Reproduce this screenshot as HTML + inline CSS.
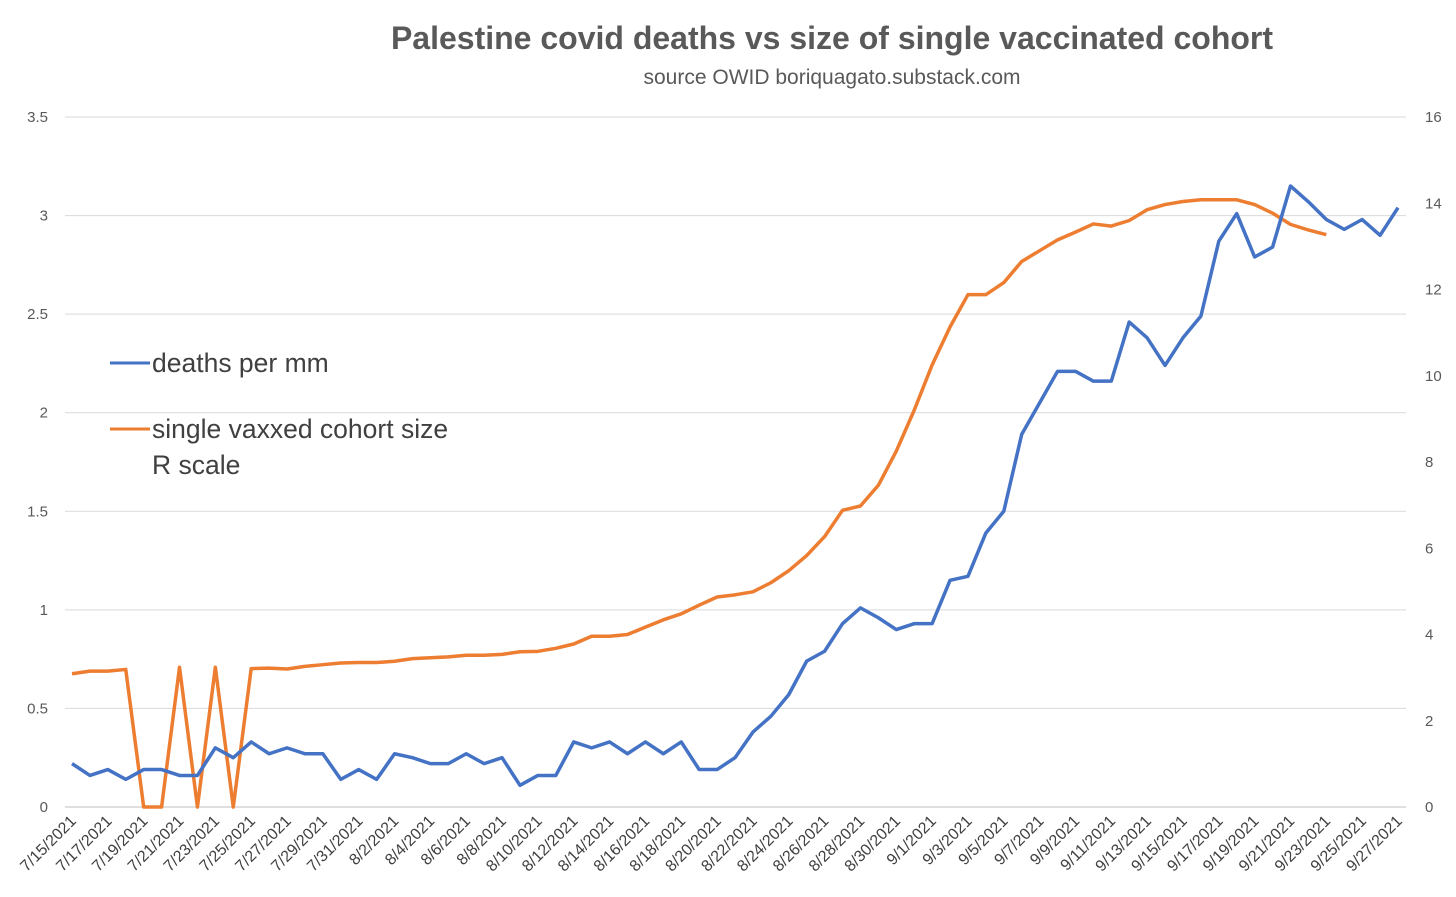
<!DOCTYPE html>
<html><head><meta charset="utf-8"><style>
body{margin:0;background:#fff;}
svg{display:block;font-family:"Liberation Sans",sans-serif;}
</style></head><body>
<svg id="chart" width="1456" height="897">
<text x="832" y="49" text-anchor="middle" font-size="32" font-weight="bold" fill="#595959">Palestine covid deaths vs size of single vaccinated cohort</text>
<text x="832" y="84" text-anchor="middle" font-size="21" fill="#595959">source OWID boriquagato.substack.com</text>
<g id="grid"></g><g id="xlabels"></g><g id="lines"></g>
<g>
<line x1="110" y1="363" x2="150" y2="363" stroke="#4472C4" stroke-width="3"/>
<text x="152" y="372" font-size="26.5" fill="#404040">deaths per mm</text>
<line x1="110" y1="429" x2="150" y2="429" stroke="#ED7D31" stroke-width="3"/>
<text x="152" y="438" font-size="26.5" fill="#404040">single vaxxed cohort size</text>
<text x="152" y="474" font-size="26.5" fill="#404040">R scale</text>
</g>
</svg>
<script>
const deaths=[0.22,0.16,0.19,0.14,0.19,0.19,0.16,0.16,0.30,0.25,0.33,0.27,0.30,0.27,0.27,0.14,0.19,0.14,0.27,0.25,0.22,0.22,0.27,0.22,0.25,0.11,0.16,0.16,0.33,0.30,0.33,0.27,0.33,0.27,0.33,0.19,0.19,0.25,0.38,0.46,0.57,0.74,0.79,0.93,1.01,0.96,0.90,0.93,0.93,1.15,1.17,1.39,1.50,1.89,2.05,2.21,2.21,2.16,2.16,2.46,2.38,2.24,2.38,2.49,2.87,3.01,2.79,2.84,3.15,3.07,2.98,2.93,2.98,2.90,3.04];
const cohort=[3.09,3.15,3.15,3.19,0,0,3.24,0,3.24,0,3.21,3.22,3.2,3.26,3.3,3.34,3.35,3.35,3.38,3.44,3.46,3.48,3.52,3.52,3.54,3.6,3.61,3.68,3.78,3.96,3.96,4.0,4.17,4.34,4.48,4.68,4.87,4.92,4.99,5.2,5.48,5.83,6.27,6.88,6.98,7.46,8.25,9.2,10.25,11.13,11.88,11.88,12.16,12.65,12.9,13.15,13.33,13.52,13.47,13.6,13.85,13.97,14.04,14.08,14.08,14.08,13.97,13.77,13.51,13.38,13.27];
const leftTicks=[0,0.5,1,1.5,2,2.5,3,3.5];
const rightTicks=[0,2,4,6,8,10,12,14,16];
const NS="http://www.w3.org/2000/svg";
const start=new Date(2021,6,15);
const N=deaths.length;
const x0=72,x1=1398,yb=807,yt=117,pl=65,pr=1406;
const X=i=>x0+i*(x1-x0)/(N-1);
const YL=v=>yb-v/3.5*(yb-yt);
const YR=v=>yb-v/16*(yb-yt);
function mk(t,a,p){const e=document.createElementNS(NS,t);for(const k in a)e.setAttribute(k,a[k]);p.appendChild(e);return e;}
const grid=document.getElementById('grid');
leftTicks.forEach(v=>{
 const l=mk('line',{x1:pl,x2:pr,y1:YL(v),y2:YL(v),stroke:v===0?'#bfbfbf':'#d9d9d9','stroke-width':1},grid);
 
 
 const t=mk('text',{x:48,y:YL(v)+5,'text-anchor':'end','font-size':15,fill:'#595959'},grid);
 t.textContent=v;
 
 
});
rightTicks.forEach(v=>{
 const t=mk('text',{x:1425,y:YR(v)+5,'text-anchor':'start','font-size':15,fill:'#595959'},grid);
 t.textContent=v;
 
 
});
const xl=document.getElementById('xlabels');
for(let i=0;i<N;i+=2){
 const d=new Date(start);d.setDate(d.getDate()+i);
 const s=(d.getMonth()+1)+'/'+d.getDate()+'/2021';
 const t=mk('text',{x:X(i)+5,y:822,'text-anchor':'end','font-size':16,fill:'#404040',transform:`rotate(-45 ${X(i)+5} 822)`},xl);
 t.textContent=s;
 
 
}
const lines=document.getElementById('lines');
const p2=mk('polyline',{points:cohort.map((v,i)=>X(i)+','+YR(v)).join(' '),fill:'none',stroke:'#ED7D31','stroke-width':3.5,'stroke-linejoin':'round'},lines);


const p1=mk('polyline',{points:deaths.map((v,i)=>X(i)+','+YL(v)).join(' '),fill:'none',stroke:'#4472C4','stroke-width':3.5,'stroke-linejoin':'round'},lines);


</script>
</body></html>
